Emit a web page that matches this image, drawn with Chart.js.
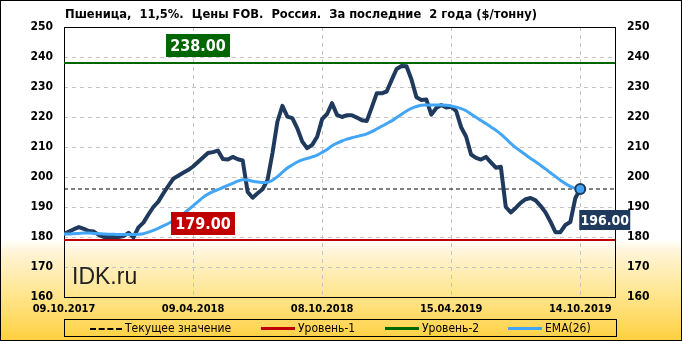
<!DOCTYPE html>
<html>
<head>
<meta charset="utf-8">
<script src="https://cdn.jsdelivr.net/npm/chart.js@4/dist/chart.umd.min.js"></script>
<style>
  html, body { margin: 0; padding: 0; }
  #wrap {
    position: relative; width: 682px; height: 341px; overflow: hidden;
    background: linear-gradient(to bottom, #ffffff 0%, #ffffff 70%, #fff4d6 74%, #ffe690 86%, #ffd040 100%);
    font-family: "DejaVu Sans Condensed", "DejaVu Sans", sans-serif;
  }
  #chart { position: absolute; left: 0; top: 0; }
  #frame { position: absolute; left: 0; top: 0; width: 682px; height: 341px; box-sizing: border-box; border: 1px solid #000; pointer-events: none; }
  #title { position: absolute; left: 65px; top: 6px; font-size: 12.8px; font-weight: bold; color: #000; white-space: pre; }
  #legend { position: absolute; left: 64px; top: 319px; width: 553px; height: 18px; box-sizing: border-box; border: 1px solid #000; font-size: 12px; color: #000; }
  .item { position: absolute; top: 0px; height: 16px; line-height: 16px; white-space: nowrap; }
  .swatch { display: inline-block; vertical-align: middle; width: 34px; margin-right: 3px; }
</style>
</head>
<body>
<div id="wrap">
  <canvas id="chart" width="682" height="341"></canvas>
  <div id="title">Пшеница,  11,5%.  Цены FOB.  Россия.  За последние  2 года ($/тонну)</div>
  <div id="legend">
    <div class="item" style="left:25px"><span class="swatch" style="border-top:2px dashed #000;width:32px"></span>Текущее значение</div>
    <div class="item" style="left:196px"><span class="swatch" style="border-top:3px solid #c00000"></span>Уровень-1</div>
    <div class="item" style="left:320px"><span class="swatch" style="border-top:3px solid #006600"></span>Уровень-2</div>
    <div class="item" style="left:443px"><span class="swatch" style="border-top:3px solid #42a5f5"></span>EMA(26)</div>
  </div>
  <div id="frame"></div>
</div>
<script>
// weekly prices, $/t
const price = [
  181, 181.8, 182.6, 183.3, 182.7, 182, 181.8, 180.7, 180, 180,
  180, 180, 180.3, 181.4, 179.9, 183.2, 184.8, 187.5, 190, 191.8,
  194.5, 197, 199.4, 200.4, 201.4, 202.3, 203.5, 205, 206.5, 208,
  208.3, 208.8, 206, 205.8, 206.7, 205.9, 205.5, 195, 193.1, 194.6,
  195.9, 199, 208, 218.5, 223.7, 220.1, 219.6, 216.2, 211.8, 209.6,
  210.7, 213.4, 219.3, 221, 224.6, 220.7, 220, 220.6, 220.6, 219.8,
  218.9, 218.7, 223.2, 227.9, 227.9, 228.5, 232.3, 236, 237, 236.9,
  232.5, 226.6, 225.7, 225.8, 220.8, 223, 224, 223.2, 223.4, 222,
  216.6, 213.5, 207.5, 206.4, 205.8, 206.7, 204.9, 203.1, 203.4, 190,
  188.2, 189.7, 191.4, 192.6, 193, 192.2, 190.4, 188.2, 185.1, 181.6,
  181.6, 184, 185, 192.9, 196
];

const ema = [
  181, 181, 181.1, 181.2, 181.3, 181.3, 181.2, 181.1, 181, 180.9,
  180.9, 180.8, 180.8, 180.8, 180.8, 180.9, 181.1, 181.6, 182.2, 182.9,
  183.7, 184.5, 185.4, 186.5, 187.7, 189, 190.4, 191.8, 193.2, 194.3,
  195.1, 195.8, 196.5, 197.2, 197.9, 198.6, 199.1, 199, 198.6, 198.3,
  198.2, 198.2, 198.9, 200.1, 201.6, 203, 204, 205, 205.7, 206.2,
  206.7, 207.3, 208.2, 209.2, 210.4, 211.3, 212, 212.6, 213.1, 213.5,
  213.9, 214.4, 215.1, 216, 216.9, 217.8, 218.7, 219.8, 220.9, 222,
  222.9, 223.5, 223.9, 224, 224, 224, 224, 223.9, 223.7, 223.3,
  222.8, 222.1, 221, 219.9, 218.8, 217.8, 216.7, 215.6, 214.3, 212.8,
  211.2, 209.8, 208.6, 207.4, 206.2, 205.1, 203.9, 202.7, 201.4, 200.2,
  198.9, 197.8, 196.9, 196.2, 195.9
];

const tickIndex = [0, 26, 52, 78, 104];
const tickLabels = ['09.10.2017', '09.04.2018', '08.10.2018', '15.04.2019', '14.10.2019'];

const currentValue = 196;
const level1 = 179;
const level2 = 238;

const X_MAX = 111;
const NAVY = '#1f3a5c';
const BLUE = '#42a5f5';

const pts = arr => arr.map((v, i) => ({ x: i, y: v }));
const hline = v => [{ x: 0, y: v }, { x: X_MAX, y: v }];
const lastIdx = price.length - 1;

// tags, frame and watermark
const overlay = {
  id: 'overlay',
  beforeDatasetsDraw(chart) {
    const { ctx, chartArea: a } = chart;
    ctx.save();
    ctx.font = '23px "Liberation Sans", Arial, sans-serif';
    ctx.fillStyle = '#222';
    ctx.textBaseline = 'alphabetic';
    ctx.fillText('IDK.ru', a.left + 8, 284);
    ctx.strokeStyle = '#000';
    ctx.lineWidth = 1;
    ctx.strokeRect(a.left + 0.5, a.top + 0.5, a.right - a.left, a.bottom - a.top);
    ctx.restore();
  },
  afterDatasetsDraw(chart) {
    const { ctx } = chart;
    const xs = chart.scales.x, ys = chart.scales.y;
    const tag = (text, left, top, w, h, bg, size) => {
      ctx.save();
      ctx.fillStyle = bg;
      ctx.fillRect(left, top, w, h);
      ctx.fillStyle = '#fff';
      ctx.font = 'bold ' + size + 'px "DejaVu Sans Condensed", "DejaVu Sans", sans-serif';
      ctx.textAlign = 'center';
      ctx.textBaseline = 'middle';
      ctx.fillText(text, left + w / 2, top + h / 2 + 1);
      ctx.restore();
    };
    let cx = xs.getPixelForValue(27);
    tag(level2.toFixed(2), cx - 32, ys.getPixelForValue(level2) - 29, 64, 23, '#006600', 16);
    cx = xs.getPixelForValue(28);
    tag(level1.toFixed(2), cx - 32, ys.getPixelForValue(level1) - 28, 64, 23, '#c00000', 16);
    tag(currentValue.toFixed(2), xs.getPixelForValue(lastIdx) - 1, ys.getPixelForValue(currentValue) + 21, 51, 20, NAVY, 14);
  }
};

new Chart(document.getElementById('chart'), {
  type: 'line',
  data: {
    datasets: [
      {
        data: [{ x: lastIdx, y: price[lastIdx] }],
        showLine: false, pointRadius: 5, pointBackgroundColor: BLUE,
        pointBorderColor: NAVY, pointBorderWidth: 2
      },
      { label: 'EMA(26)', data: pts(ema), borderColor: BLUE, borderWidth: 3, pointRadius: 0, tension: 0.3 },
      { label: 'Цена', data: pts(price), borderColor: NAVY, borderWidth: 4, pointRadius: 0, borderJoinStyle: 'round', borderCapStyle: 'round' },
      { label: 'Текущее значение', data: hline(currentValue), borderColor: '#000', borderWidth: 1, borderDash: [4, 3], pointRadius: 0 },
      { label: 'Уровень-1', data: hline(level1), borderColor: '#c00000', borderWidth: 2, pointRadius: 0 },
      { label: 'Уровень-2', data: hline(level2), borderColor: '#006600', borderWidth: 2, pointRadius: 0 }
    ]
  },
  options: {
    responsive: false,
    animation: false,
    layout: { padding: { top: 27, left: 0, right: 0, bottom: 0 } },
    plugins: { legend: { display: false }, tooltip: { enabled: false } },
    scales: {
      x: {
        type: 'linear', min: 0, max: X_MAX,
        afterBuildTicks: s => { s.ticks = tickIndex.map(v => ({ value: v })); },
        afterFit: s => { s.height = 44; },
        ticks: {
          autoSkip: false, maxRotation: 0, padding: 6, color: '#000',
          font: { family: '"DejaVu Sans Condensed", "DejaVu Sans", sans-serif', size: 11, weight: 'bold' },
          callback: v => tickLabels[tickIndex.indexOf(v)]
        },
        grid: { color: '#c4c4c4', lineWidth: 1, drawTicks: false },
        border: { display: false, dash: [4, 4] }
      },
      y: {
        position: 'left', min: 160, max: 250,
        afterFit: s => { s.width = 64; },
        ticks: {
          stepSize: 10, padding: 11, color: '#000',
          font: { family: '"DejaVu Sans Condensed", "DejaVu Sans", sans-serif', size: 12, weight: 'bold' }
        },
        grid: { color: '#c4c4c4', lineWidth: 1, drawTicks: false },
        border: { display: false, dash: [4, 4] }
      },
      y2: {
        position: 'right', min: 160, max: 250,
        afterFit: s => { s.width = 67; },
        ticks: {
          stepSize: 10, padding: 12, color: '#000',
          font: { family: '"DejaVu Sans Condensed", "DejaVu Sans", sans-serif', size: 12, weight: 'bold' }
        },
        grid: { display: false, drawTicks: false },
        border: { display: false }
      }
    }
  },
  plugins: [overlay]
});
</script>
</body>
</html>
